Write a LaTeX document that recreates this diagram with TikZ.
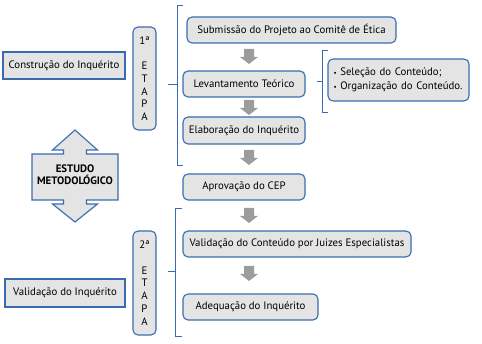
\documentclass[tikz,border=0pt]{standalone}
\usepackage{fontspec}
\setmainfont{PT Sans}
\definecolor{bord}{HTML}{3A6BB0}
\definecolor{boxfill}{HTML}{E4E4E4}
\definecolor{garr}{HTML}{9C9C9C}
\newcommand{\smbul}{{\fontsize{7}{7}\selectfont\raisebox{0.3pt}{•}}}
\begin{document}
\begin{tikzpicture}[x=1pt,y=-1pt,
  font=\fontsize{10.8}{12}\selectfont,
  rbox/.style={draw=bord, fill=boxfill, line width=1.1pt, rounded corners=5pt, inner sep=2pt, align=center},
  sbox/.style={draw=bord, fill=boxfill, line width=1.1pt, inner sep=2pt, align=center},
  brk/.style={draw=bord, line width=1pt},
  garrowpic/.pic={\fill[garr] (-5,0) -- (5,0) -- (5,8) -- (9,8) -- (0,15) -- (-9,8) -- (-5,8) -- cycle;}]
\useasboundingbox (0,0) rectangle (482,344);

% left boxes
\node[sbox, minimum width=122pt, minimum height=27pt] (cons) at (64,65.5) {Construção do Inquérito};
\node[sbox, minimum width=120pt, minimum height=28pt] (vinq) at (65,293) {Validação do Inquérito};

% etapa boxes
\node[rbox, minimum width=23pt, minimum height=103pt, font=\fontsize{10.8}{12.7}\selectfont] (et1) at (144.5,78.5) {1ª\\[13pt]E\\T\\A\\P\\A};
\node[rbox, minimum width=23pt, minimum height=104pt, font=\fontsize{10.8}{12.7}\selectfont] (et2) at (144.5,283) {2ª\\[13pt]E\\T\\A\\P\\A};

% double arrow
\path[sbox] (75,130) -- (97.5,150) -- (86.5,150) -- (86.5,154) -- (118,154) -- (118,200) -- (86.5,200) -- (86.5,204) -- (97.5,204) -- (75,222) -- (52.5,204) -- (63.5,204) -- (63.5,200) -- (32,200) -- (32,154) -- (63.5,154) -- (63.5,150) -- (52.5,150) -- cycle;
\node[font=\fontsize{10.8}{12.5}\selectfont\bfseries, align=center] (est) at (75,174.5) {ESTUDO\\METODOLÓGICO};

% step boxes
\node[rbox, minimum width=209pt, minimum height=26pt] (sub) at (291.5,30) {Submissão do Projeto ao Comitê de Ética};
\node[rbox, minimum width=122pt, minimum height=26pt] (lev) at (244,84) {Levantamento Teórico};
\node[rbox, minimum width=122pt, minimum height=27pt] (ela) at (244,130.5) {Elaboração do Inquérito};
\node[rbox, minimum width=122pt, minimum height=26pt] (apr) at (244,187) {Aprovação do CEP};
\node[rbox, minimum width=228pt, minimum height=26pt] (val) at (297,244) {Validação do Conteúdo por Juizes Especialistas};
\node[rbox, minimum width=135pt, minimum height=26pt] (ade) at (250.5,307) {Adequação do Inquérito};
\node[rbox, minimum width=141pt, minimum height=42pt, text width=130pt, align=left, inner sep=5.5pt, font=\fontsize{10.8}{14}\selectfont] (bul) at (398.5,80) {\smbul\ Seleção do Conteúdo;\\\smbul\ Organização do Conteúdo.};

% gray arrows
\pic at (249,49) {garrowpic};
\pic at (249,100) {garrowpic};
\pic at (249,150) {garrowpic};
\pic at (249,208) {garrowpic};
\pic at (249,266) {garrowpic};

% brackets
\draw[brk] (183,6) -- (177,6) -- (177,166) -- (183,166);
\draw[brk] (168,85) -- (177,85);
\draw[brk] (328,51) -- (322,51) -- (322,113) -- (328,113);
\draw[brk] (317,82) -- (322,82);
\draw[brk] (182,209) -- (175,209) -- (175,337) -- (182,337);
\draw[brk] (168,272) -- (175,272);
\end{tikzpicture}
\end{document}
